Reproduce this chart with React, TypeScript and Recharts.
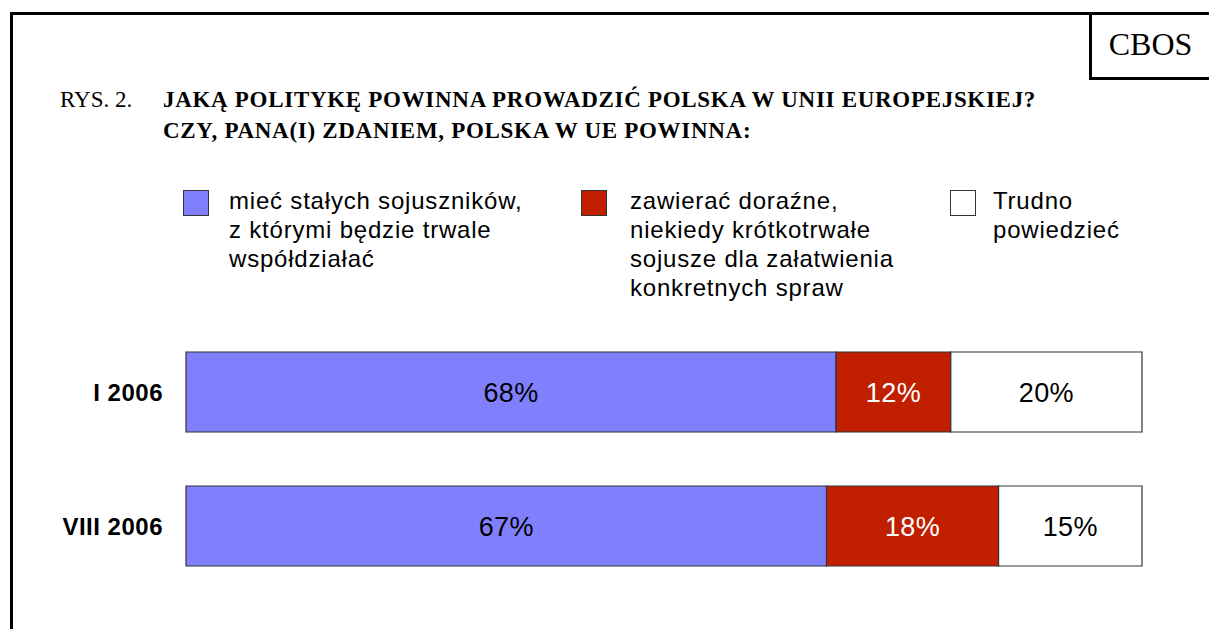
import React from 'react';
import { BarChart, Bar, XAxis, YAxis, LabelList } from 'recharts';

const periods = ['I 2006', 'VIII 2006'];
const stale = [68, 67];
const dorazne = [12, 18];
const trudno = [20, 15];

const seriesNames = [
  ['mieć stałych sojuszników,', 'z którymi będzie trwale', 'współdziałać'],
  ['zawierać doraźne,', 'niekiedy krótkotrwałe', 'sojusze dla załatwienia', 'konkretnych spraw'],
  ['Trudno', 'powiedzieć'],
];
const seriesColors = ['#8080FF', '#C02000', '#FFFFFF'];
const labelColors = ['#000000', '#FFFFFF', '#000000'];

const titleLines = [
  'JAKĄ POLITYKĘ POWINNA PROWADZIĆ POLSKA W UNII EUROPEJSKIEJ?',
  'CZY, PANA(I) ZDANIEM, POLSKA W UE POWINNA:',
];

const data = periods.map((p, i) => ({
  period: p,
  stale: stale[i],
  dorazne: dorazne[i],
  trudno: trudno[i],
}));

const serif = '"Liberation Serif", "Times New Roman", serif';
const sans = '"Liberation Sans", Arial, sans-serif';

const legendPos = [
  { left: 183, text: 229 },
  { left: 581, text: 630 },
  { left: 950, text: 993 },
];

export default function App() {
  const keys = ['stale', 'dorazne', 'trudno'];
  return (
    <div style={{ position: 'relative', width: 1209, height: 629, background: '#fff', overflow: 'hidden' }}>
      <style>{`body{margin:0}`}</style>
      {/* frame */}
      <div style={{ position: 'absolute', left: 10, top: 12, width: 1209, height: 629, borderLeft: '3px solid #000', borderTop: '3px solid #000' }} />
      <div style={{ position: 'absolute', left: 1089, top: 12, width: 130, height: 65, borderLeft: '3px solid #000', borderBottom: '3px solid #000' }} />
      <div style={{ position: 'absolute', left: 1092, top: 24, width: 117, textAlign: 'center', fontFamily: serif, fontSize: 32, lineHeight: '40px' }}>
        CBOS
      </div>

      {/* title */}
      <div style={{ position: 'absolute', left: 60, top: 84, fontFamily: serif, fontSize: 23, lineHeight: '31px' }}>RYS. 2.</div>
      <div style={{ position: 'absolute', left: 163, top: 84, fontFamily: serif, fontSize: 23, letterSpacing: 0.7, fontWeight: 'bold', lineHeight: '31px', whiteSpace: 'nowrap' }}>
        {titleLines.map((l) => (
          <div key={l}>{l}</div>
        ))}
      </div>

      {/* legend */}
      {seriesNames.map((lines, i) => (
        <React.Fragment key={i}>
          <div
            style={{
              position: 'absolute',
              left: legendPos[i].left,
              top: 190,
              width: 26,
              height: 26,
              boxSizing: 'border-box',
              background: seriesColors[i],
              border: '1px solid #333',
            }}
          />
          <div style={{ position: 'absolute', left: legendPos[i].text, top: 186, fontFamily: sans, fontSize: 24, letterSpacing: 0.8, lineHeight: '29px', color: '#000', whiteSpace: 'nowrap' }}>
            {lines.map((l) => (
              <div key={l}>{l}</div>
            ))}
          </div>
        </React.Fragment>
      ))}

      <div style={{ position: 'absolute', left: 0, top: 0 }}>
        <BarChart
          width={1209}
          height={629}
          data={data}
          layout="vertical"
          margin={{ top: 325, right: 67, bottom: 36, left: 0 }}
        >
          <XAxis type="number" domain={[0, 100]} hide />
          <YAxis
            type="category"
            dataKey="period"
            width={186}
            axisLine={false}
            tickLine={false}
            tickSize={0}
            tickMargin={23}
            tick={{ fill: '#000', fontSize: 24, fontWeight: 'bold', fontFamily: sans, letterSpacing: 0.5 }}
          />
          {keys.map((k, i) => (
            <Bar
              key={k}
              dataKey={k}
              stackId="a"
              barSize={80}
              fill={seriesColors[i]}
              stroke="#333"
              strokeWidth={1.2}
              isAnimationActive={false}
            >
              <LabelList
                dataKey={k}
                position="center"
                formatter={(v: number) => `${v}%`}
                style={{ fill: labelColors[i], fontSize: 27, fontFamily: sans, letterSpacing: 0.4 }}
              />
            </Bar>
          ))}
        </BarChart>
      </div>
    </div>
  );
}
